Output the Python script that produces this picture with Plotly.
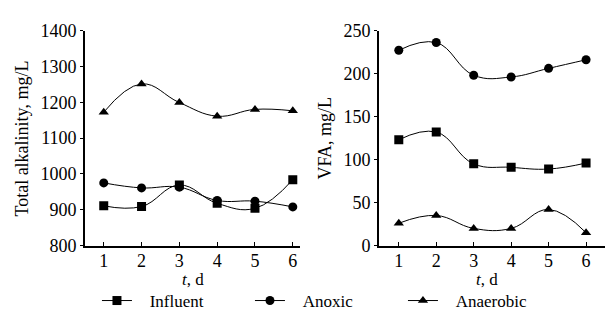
import plotly.graph_objects as go

days = [1, 2, 3, 4, 5, 6]
alk_influent = [911, 909, 969, 918, 904, 984]
alk_anoxic = [975, 961, 963, 926, 924, 908]
alk_anaerobic = [1172, 1251, 1199, 1161, 1180, 1176]
vfa_influent = [123, 132, 95, 91, 89, 96]
vfa_anoxic = [227, 236, 198, 196, 206, 216]
vfa_anaerobic = [26, 35, 20, 20, 42, 15]
series_names = ["Influent", "Anoxic", "Anaerobic"]
symbols = ["square", "circle", "triangle-up"]

FONT = "Liberation Serif"
W, H = 606, 326
fig = go.Figure()
left = [alk_influent, alk_anoxic, alk_anaerobic]
right = [vfa_influent, vfa_anoxic, vfa_anaerobic]
for i, name in enumerate(series_names):
    fig.add_trace(go.Scatter(x=days, y=left[i], name="&nbsp;&nbsp;&nbsp;" + name, mode="lines+markers",
                             line=dict(color="black", width=1, shape="spline", smoothing=1.2),
                             marker=dict(symbol=symbols[i], size=9, color="black"),
                             xaxis="x", yaxis="y", showlegend=True))
    fig.add_trace(go.Scatter(x=days, y=right[i], name=name, mode="lines+markers",
                             line=dict(color="black", width=1, shape="spline", smoothing=1.2),
                             marker=dict(symbol=symbols[i], size=9, color="black"),
                             xaxis="x2", yaxis="y2", showlegend=False))

tickfont = dict(family=FONT, size=18, color="black")
xax = dict(showline=True, linecolor="black", linewidth=1.5, showgrid=False,
           zeroline=False, ticks="inside", ticklen=4, tickcolor="black",
           tickfont=tickfont, ticklabelstandoff=-2)
yax = dict(showline=True, linecolor="black", linewidth=1.5, showgrid=False,
           zeroline=False, ticks="outside", ticklen=3, tickcolor="black",
           tickfont=tickfont)
ydom = [0.23, 0.933]
tfont = dict(family=FONT, size=18, color="black")
sfont = dict(family=FONT, size=17, color="black")


def px(x, y):
    return x / W, 1 - y / H


annots = []
for text, x, y, ang, f in [("Total alkalinity, mg/L", 22, 137, -90, tfont),
                           ("VFA, mg/L", 325, 137, -90, tfont),
                           ("<i>t</i>, d", 193, 287, 0, sfont),
                           ("<i>t</i>, d", 487, 287, 0, sfont)]:
    ax_, ay_ = px(x, y)
    annots.append(dict(text=text, x=ax_, y=ay_, xref="paper", yref="paper",
                       xanchor="center", yanchor="middle",
                       textangle=ang, showarrow=False, font=f))

fig.update_layout(
    width=W, height=H, margin=dict(l=0, r=0, t=0, b=0),
    paper_bgcolor="white", plot_bgcolor="white",
    xaxis=dict(domain=[0.14, 0.495], range=[0.5, 6.19], tickvals=days, anchor="y", **xax),
    yaxis=dict(domain=ydom, range=[800, 1400], dtick=100, anchor="x", **yax),
    xaxis2=dict(domain=[0.625, 0.998], range=[0.465, 6.5], tickvals=days, anchor="y2", **xax),
    yaxis2=dict(domain=ydom, range=[0, 250], dtick=50, anchor="x2", **yax),
    legend=dict(orientation="h", x=0.16, y=1 - 310 / H, xanchor="left", yanchor="middle",
                font=sfont, bgcolor="rgba(0,0,0,0)", entrywidth=108, itemwidth=30,
                tracegroupgap=0),
    annotations=annots,
)
fig.write_html("out.html")
